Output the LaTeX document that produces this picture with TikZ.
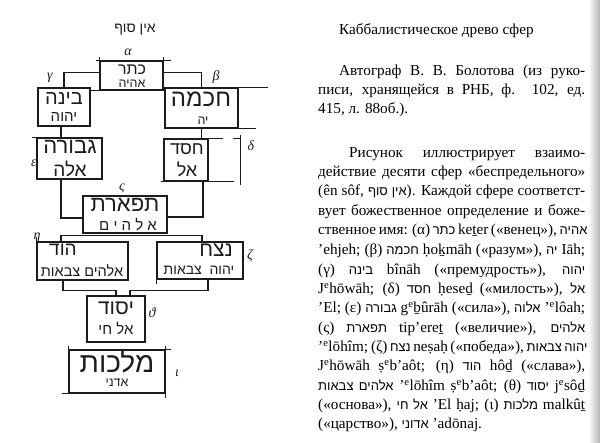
\documentclass[tikz,border=0pt]{standalone}
\usepackage{fontspec}
\setmainfont{Liberation Serif}
\newfontfamily\hebfont[Script=Hebrew]{Liberation Sans}
\TeXXeTstate=1
\newcommand{\hb}[1]{{\hebfont\beginR #1\endR}}
\newcommand{\htx}[1]{{\hebfont\fontsize{13}{15}\selectfont\beginR #1\endR}}
\newcommand{\hs}[1]{\hebfont\fontsize{#1}{#1}\selectfont}
\newcommand{\sce}{\textsuperscript{e}}
\newcommand{\jl}[1]{\makebox[267pt][s]{#1}}
\definecolor{ink}{HTML}{1C1C1C}
\begin{document}
\begin{tikzpicture}[x=1pt,y=-1pt,
  sbox/.style={draw=ink,line width=1.5pt,inner sep=0pt},
  conn/.style={draw=ink,line width=1.4pt},
  hl/.style={inner sep=0pt,text=ink},
  gl/.style={inner sep=0pt,text=ink,font=\itshape\fontsize{14}{14}\selectfont},
  txt/.style={anchor=base west,inner sep=0pt,font=\fontsize{15.2}{18}\selectfont,text=black}]
\fill[white] (0,0) rectangle (600,443);
\useasboundingbox (0,0) rectangle (600,443);
\shade[left color=white,right color=black!30] (588,0) rectangle (600,443);

% boxes
\node[sbox,minimum width=63pt,minimum height=29pt] (keter) at (131.5,75.5) {};
\node[sbox,minimum width=52pt,minimum height=38pt] (binah) at (64,107) {};
\node[sbox,minimum width=73pt,minimum height=40pt] (chokhmah) at (201.5,108) {};
\node[sbox,minimum width=65pt,minimum height=41pt] (gevurah) at (69.5,158.5) {};
\node[sbox,minimum width=44pt,minimum height=42pt] (chesed) at (186,160) {};
\node[sbox,minimum width=84pt,minimum height=37pt] (tiferet) at (125,214.5) {};
\node[sbox,minimum width=91pt,minimum height=38pt] (hod) at (82.5,261) {};
\node[sbox,minimum width=86pt,minimum height=37pt] (netzach) at (200,260.5) {};
\node[sbox,minimum width=58pt,minimum height=46pt] (yesod) at (116,319) {};
\node[sbox,minimum width=96pt,minimum height=43pt] (malkhut) at (117,371.5) {};

% connectors
\draw[conn] (binah.north) |- ([yshift=3pt]keter.west);
\draw[conn] ([yshift=3pt]keter.east) -| (chokhmah.north);
\draw[conn] ([xshift=-3pt]binah.south) -- ([xshift=-3pt]binah.south |- gevurah.north);
\draw[conn] (chokhmah.south) -- (chokhmah.south |- chesed.north);
\draw[conn] ([xshift=-8.5pt]gevurah.south) |- ([yshift=-3.5pt]tiferet.west);
\draw[conn] ([xshift=17pt]chesed.south) |- ([yshift=-2.5pt]tiferet.east);
\draw[conn] ([xshift=-21.5pt]hod.north) |- ([yshift=-2pt]tiferet.south) -| ([xshift=2pt]netzach.north);
\draw[conn] ([xshift=-19.5pt]hod.south) |- ([yshift=5pt]yesod.north) -- (yesod.north);
\draw[conn] ([xshift=8pt]netzach.south) |- ([xshift=14pt,yshift=5pt]yesod.north) -- ([xshift=14pt]yesod.north);

% overhanging strokes of the hand drawing
\draw[conn] ([xshift=-3pt]keter.north west) -- ([xshift=7pt]keter.north east);
\draw[conn] ([xshift=-8pt]keter.south west) -- (keter.south west);
\draw[conn] (keter.north west) -- ++(0,-3);
\draw[conn] (keter.north east) -- ++(0,-3);
\draw[conn] (chokhmah.north east) -- ++(29,0);
\draw[conn] (chokhmah.south east) -- ++(17,0);
\draw[conn] (chesed.north east) -- ++(14,0);
\draw[conn] ([xshift=24pt]chesed.north east) -- ++(8,0);
\draw[conn] ([xshift=32pt,yshift=3pt]chesed.north east) -- ([xshift=32pt,yshift=-3pt]chesed.south east);
\draw[conn] (chesed.south east) -- ++(25,0);
\draw[conn] (chesed.south west) -- ++(-2,0);
\draw[conn] (gevurah.north west) -- ++(-4,0);
\draw[conn] (hod.north west) -- ++(0,-4);
\draw[conn] (netzach.south west) -- ++(0,4);
\draw[conn] (malkhut.north east) -- ++(5,0);
\draw[conn] (malkhut.south west) -- ++(-6,0);
\draw[conn] (malkhut.north east) -- ++(0,-3);
\draw[conn] (malkhut.south east) -- ++(0,4);
\draw[conn] (malkhut.north west) -- ++(0,-3);

% Hebrew labels
\node[hl,font=\hs{14}] (ensof) at (135,30) {\hb{אין סוף}};
\node[hl,font=\hs{16}] (keterA) at (132,70) {\hb{כתר}};
\node[hl,font=\hs{12.5}] (keterB) at (132,84) {\hb{אהיה}};
\node[hl,font=\hs{20}] (binahA) at (64,99) {\hb{בינה}};
\node[hl,font=\hs{15}] (binahB) at (64,117) {\hb{יהוה}};
\node[hl,font=\hs{24}] (chokhmahA) at (201,99) {\hb{חכמה}};
\node[hl,font=\hs{12.5}] (chokhmahB) at (203,121) {\hb{יה}};
\node[hl,font=\hs{22}] (gevurahA) at (70,147) {\hb{גבורה}};
\node[hl,font=\hs{19}] (gevurahB) at (70,169) {\hb{אלה}};
\node[hl,font=\hs{18}] (chesedA) at (187,149) {\hb{חסד}};
\node[hl,font=\hs{18}] (chesedB) at (187,169) {\hb{אל}};
\node[hl,font=\hs{22}] (tiferetA) at (125,205) {\hb{תפארת}};
\node[hl,font=\hs{15}] (tiferetB) at (128,225) {\hb{א ל ה י ם}};
\node[hl,font=\hs{19}] (hodA) at (63,250) {\hb{הוד}};
\node[hl,font=\hs{14.5}] (hodB) at (82,271) {\hb{אלהים צבאות}};
\node[hl,font=\hs{21}] (netzachA) at (216,250) {\hb{נצח}};
\node[hl,font=\hs{14}] (netzachB) at (199,270) {\hb{יהוה\ \ צבאות}};
\node[hl,font=\hs{21}] (yesodA) at (116,308) {\hb{יסוד}};
\node[hl,font=\hs{15}] (yesodB) at (116,329) {\hb{אל חי}};
\node[hl,font=\hs{28}] (malkhutA) at (117,361) {\hb{מלכות}};
\node[hl,font=\hs{12.5}] (malkhutB) at (117,383) {\hb{אדני}};

% Greek labels
\node[gl] (la) at (128,52) {α};
\node[gl] (lb) at (216,77) {β};
\node[gl] (lg) at (50,78) {γ};
\node[gl] (ld) at (251,146) {δ};
\node[gl] (le) at (34,163) {ε};
\node[gl] (ls) at (122,188) {ς};
\node[gl] (lh) at (37,238) {η};
\node[gl] (lz) at (250,256) {ζ};
\node[gl] (lt) at (152,313) {ϑ};
\node[gl] (li) at (177,373) {ι};

% text column
\node[txt] (title) at (339,35) {Каббалистическое древо сфер};
\node[txt] (t1) at (339,76) {\makebox[246pt][s]{Автограф В. В. Болотова (из руко-}};
\node[txt] (t2) at (318,95) {\jl{писи, хранящейся в РНБ, ф. 102, ед.}};
\node[txt] (t3) at (318,114) {415, л. 88об.).};
\node[txt] (t4) at (349,158) {\makebox[236pt][s]{Рисунок иллюстрирует взаимо-}};
\node[txt] (t5) at (318,177) {\jl{действие десяти сфер «беспредельного»}};
\node[txt] (t6) at (318,196) {\jl{(ên sôf, \htx{אין סוף}). Каждой сфере соответст-}};
\node[txt] (t7) at (318,216) {\jl{вует божественное определение и боже-}};
\node[txt] (t8) at (318,235) {\jl{ственное имя: (α) \htx{כתר} keṯer («венец»), \htx{אהיה}}};
\node[txt] (t9) at (318,255) {\jl{’ehjeh; (β) \htx{חכמה} ḥoḵmāh («разум»), \htx{יה} Iāh;}};
\node[txt] (t10) at (318,275) {\jl{(γ) \htx{בינה} bînāh («премудрость»), \htx{יהוה}}};
\node[txt] (t11) at (318,294) {\jl{J\sce hōwāh; (δ) \htx{חסד} ḥeseḏ («милость»), \htx{אל}}};
\node[txt] (t12) at (318,313) {\jl{’El; (ε) \htx{גבורה} g\sce ḇûrāh («сила»), \htx{אלוה} ’\sce lôah;}};
\node[txt] (t13) at (318,333) {\jl{(ς) \htx{תפארת} tip’ereṯ («величие»), \htx{אלהים}}};
\node[txt] (t14) at (318,352) {\jl{’\sce lōhîm; (ζ) \htx{נצח} neṣaḥ («победа»), \htx{יהוה צבאות}}};
\node[txt] (t15) at (318,371) {\jl{J\sce hōwāh ṣ\sce b’aôt; (η) \htx{הוד} hôḏ («слава»),}};
\node[txt] (t16) at (318,391) {\jl{\htx{אלהים צבאות} ’\sce lōhîm ṣ\sce b’aôt; (θ) \htx{יסוד} j\sce sôḏ}};
\node[txt] (t17) at (318,410) {\jl{(«основа»), \htx{אל חי} ’El ḥaj; (ι) \htx{מלכות} malkûṯ}};
\node[txt] (t18) at (318,429) {(«царство»), \htx{אדוני} ’adōnaj.};
\end{tikzpicture}
\end{document}
